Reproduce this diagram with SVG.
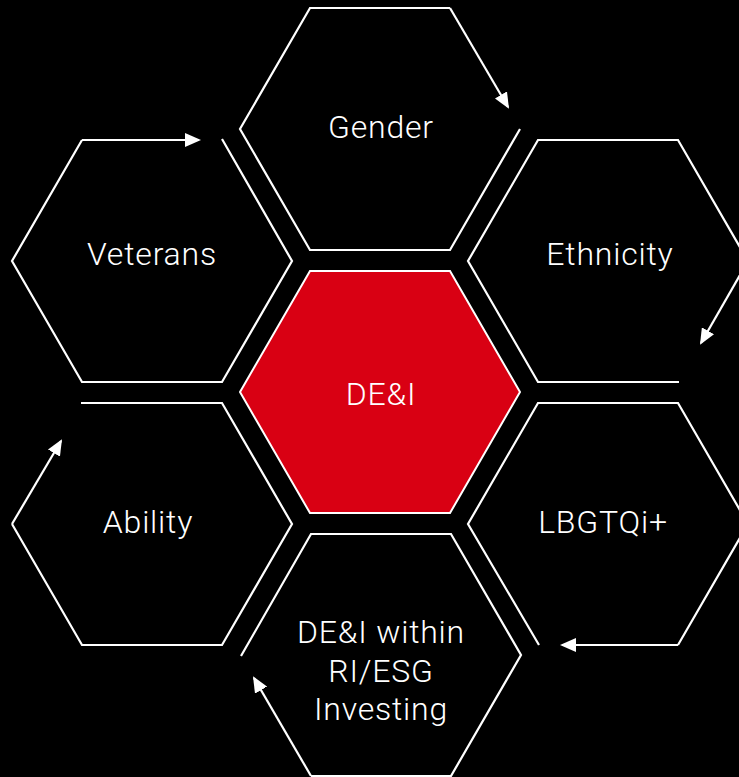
<svg xmlns="http://www.w3.org/2000/svg" width="739" height="777" viewBox="0 0 739 777">
  <style>
    .hex { fill: none; stroke: #ffffff; stroke-width: 2.2; stroke-linejoin: miter; }
    .core { fill: #d90013; stroke: #ffffff; stroke-width: 2; }
    .conn { fill: none; stroke: #ffffff; stroke-width: 2.2; marker-end: url(#arrow); }
    .lbl { fill: #ffffff; font-family: Roboto, "Liberation Sans", sans-serif; font-weight: 300; font-size: 32px; letter-spacing: 0.8px; text-anchor: middle; }
  </style>
  <defs>
    <marker id="arrow" markerUnits="userSpaceOnUse" markerWidth="16" markerHeight="14" refX="14" refY="7" orient="auto">
      <path d="M0,0 L16,7 L0,14 Z" fill="#ffffff"/>
    </marker>
  </defs>
  <rect x="0" y="0" width="739" height="777" fill="#000000"/>

  <g id="node-dei">
    <path class="core" d="M310,271 L450,271 L520,392 L450,513 L310,513 L240,392 Z"/>
    <text class="lbl" x="381" y="405">DE&amp;I</text>
  </g>
  <g id="node-gender">
    <path class="hex" d="M520,129 L450,250 L310,250 L240,129 L310,8 L450,8"/>
    <text class="lbl" x="381" y="138">Gender</text>
  </g>
  <g id="node-ethnicity">
    <path class="hex" d="M679,382 L538,382 L468,261 L538,140 L678,140 L748,261"/>
    <text class="lbl" x="610" y="265">Ethnicity</text>
  </g>
  <g id="node-lbgtqi">
    <path class="hex" d="M539,645 L468,524 L538,403 L678,403 L748,524 L678,645"/>
    <text class="lbl" x="603" y="533">LBGTQi+</text>
  </g>
  <g id="node-investing">
    <path class="hex" d="M241,656 L311,534 L451,534 L521,655 L451,776 L311,776"/>
    <text class="lbl" x="381" y="643">DE&amp;I within</text>
    <text class="lbl" x="381" y="682">RI/ESG</text>
    <text class="lbl" x="381" y="720">Investing</text>
  </g>
  <g id="node-ability">
    <path class="hex" d="M81,403 L222,403 L292,524 L222,645 L82,645 L12,524"/>
    <text class="lbl" x="148" y="533">Ability</text>
  </g>
  <g id="node-veterans">
    <path class="hex" d="M222,139 L292,261 L222,382 L82,382 L12,261 L82,140"/>
    <text class="lbl" x="152" y="265">Veterans</text>
  </g>

  <g id="connectors">
    <path class="conn" d="M450,8 L508,107"/>
    <path class="conn" d="M748,261 L701,343"/>
    <path class="conn" d="M678,645 L562,645"/>
    <path class="conn" d="M311,776 L254,678"/>
    <path class="conn" d="M12,524 L61,441"/>
    <path class="conn" d="M82,140 L199,140"/>
  </g>
</svg>
